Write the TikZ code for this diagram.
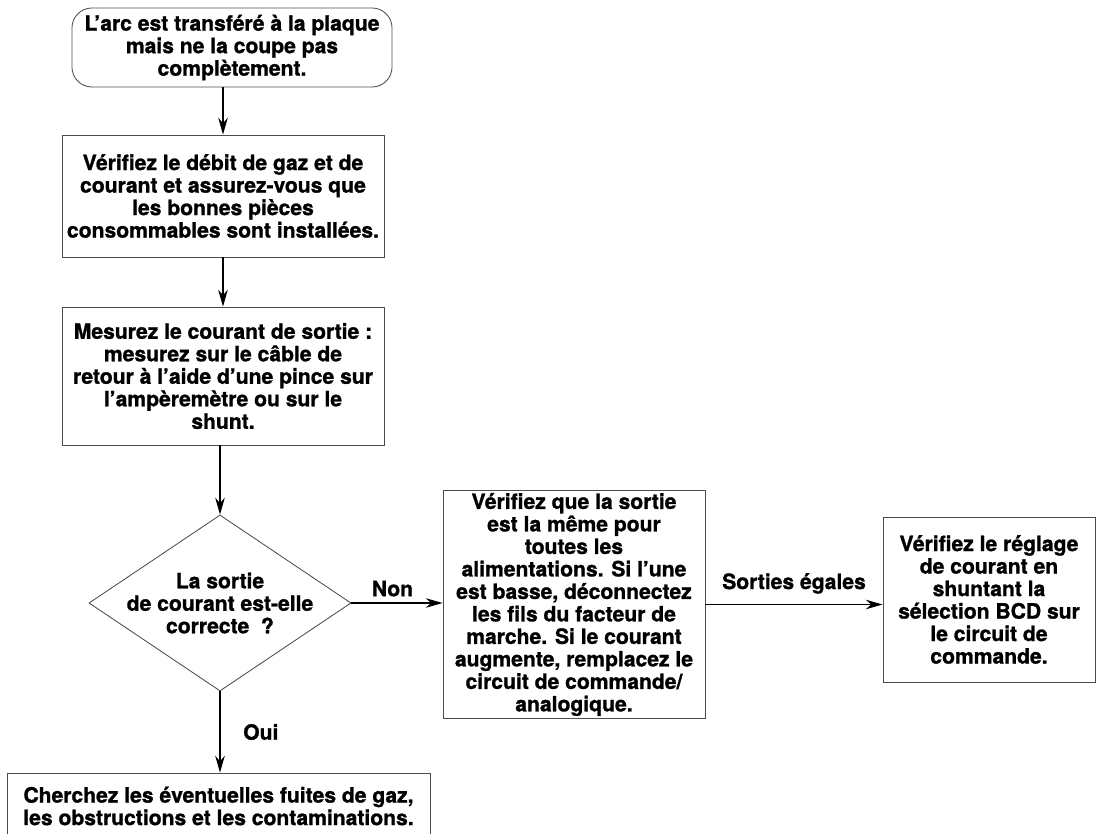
\documentclass[tikz,border=0pt]{standalone}
\usepackage{fontspec}
\setmainfont{TeX Gyre Heros}[BoldFeatures={FakeBold=1.2}]
\usetikzlibrary{shapes.geometric,arrows.meta}

\begin{document}
\begin{tikzpicture}[x=0.025cm,y=-0.025cm,
    every node/.style={font=\bfseries\fontsize{15}{16}\selectfont,align=center},
    box/.style={draw=black!70,line width=0.6pt,inner sep=2pt},
    startbox/.style={box,rounded corners=0.5cm,minimum width=8cm,minimum height=1.975cm},
    decision/.style={draw=black!70,line width=0.6pt,diamond,inner sep=0pt,
                     minimum width=6.55cm,minimum height=4.4cm},
    arr/.style={draw,line width=0.8pt,-{Stealth[length=0.42cm,width=0.24cm]}}]
  \useasboundingbox (0,0) rectangle (1100,834);

  % left column
  \node[startbox] (start) at (232,47.5)
    {L’arc est transféré à la plaque\\mais ne la coupe pas\\complètement.};
  \node[box,minimum width=8.05cm,minimum height=3.05cm] (debit) at (223,196)
    {Vérifiez le débit de gaz et de\\courant et assurez-vous que\\les bonnes pièces\\consommables sont installées.};
  \node[box,minimum width=8.05cm,minimum height=3.45cm] (mesure) at (223,376)
    {Mesurez le courant de sortie :\\mesurez sur le câble de\\retour à l’aide d’une pince sur\\l’ampèremètre ou sur le\\shunt.};
  \node[decision] (sortie) at (220,603) {};
  \node at (sortie) {La sortie\\de courant est-elle\\correcte ~?};
  \node[box,minimum width=10.575cm,minimum height=1.65cm] (fuites) at (218.5,806)
    {Cherchez les éventuelles fuites de gaz,\\les obstructions et les contaminations.};

  % right side
  \node[box,minimum width=6.55cm,minimum height=5.625cm] (alim) at (574,604.5)
    {Vérifiez que la sortie\\est la même pour\\toutes les\\alimentations. Si l’une\\est basse, déconnectez\\les fils du facteur de\\marche. Si le courant\\augmente, remplacez le\\circuit de commande/\\analogique.};
  \node[box,minimum width=5.3cm,minimum height=4.125cm] (bcd) at (989,599.5)
    {Vérifiez le réglage\\de courant en\\shuntant la\\sélection BCD sur\\le circuit de\\commande.};

  \draw[arr] (start.south -| debit.north) -- (debit.north);
  \draw[arr] (debit) -- (mesure);
  \draw[arr] (mesure.south -| sortie.north) -- (sortie.north);
  \draw[arr] (sortie.east) -- (sortie.east -| alim.west)
    node[above=1pt,pos=0.45] {Non};
  \draw[arr] (alim.east) -- (alim.east -| bcd.west)
    node[above=4pt,midway] {Sorties égales};
  \draw[arr] (sortie.south) -- (sortie.south |- fuites.north)
    node[right=0.45cm,midway] {Oui};
\end{tikzpicture}
\end{document}
